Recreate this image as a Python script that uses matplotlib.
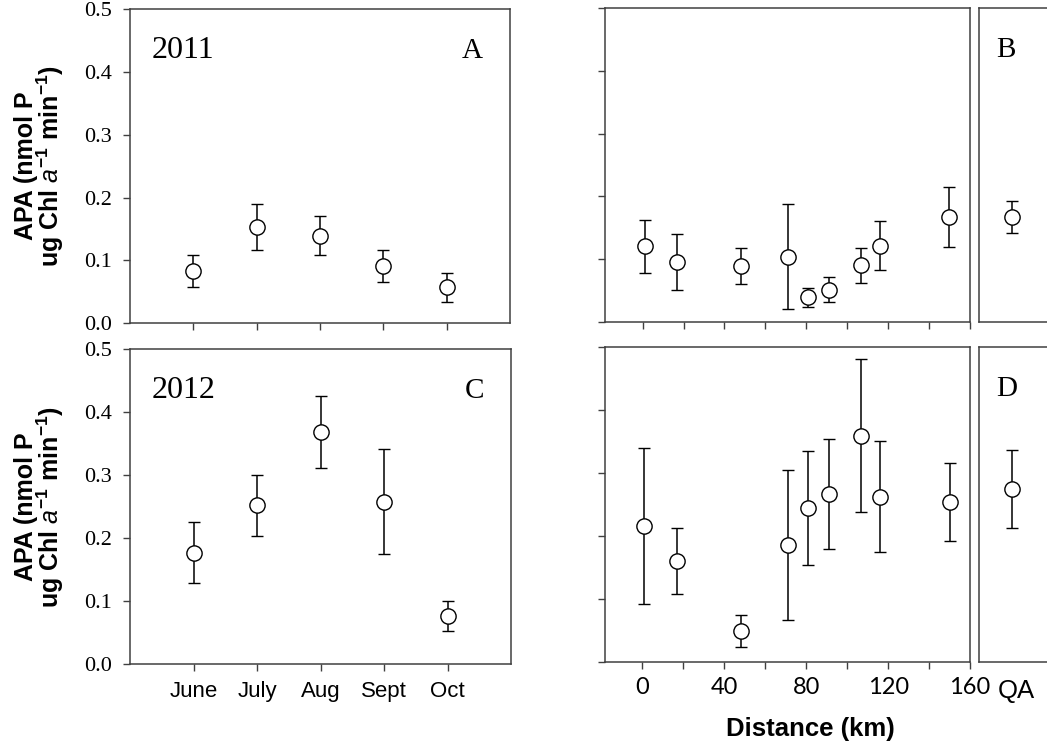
import matplotlib
matplotlib.use("Agg")
import matplotlib.pyplot as plt
from matplotlib.ticker import MultipleLocator, FormatStrFormatter

# ---- data -------------------------------------------------------------
months = ["June", "July", "Aug", "Sept", "Oct"]
apa_2011_month = [0.083, 0.153, 0.139, 0.091, 0.057]
err_2011_month = [0.025, 0.037, 0.031, 0.025, 0.023]
apa_2012_month = [0.177, 0.252, 0.369, 0.258, 0.076]
err_2012_month = [0.049, 0.048, 0.057, 0.084, 0.024]

distance_km = [1, 17, 48, 71, 81, 91, 107, 116, 150]
apa_2011_dist = [0.120, 0.095, 0.089, 0.104, 0.039, 0.051, 0.090, 0.121, 0.167]
err_2011_dist = [0.042, 0.045, 0.029, 0.083, 0.015, 0.020, 0.028, 0.039, 0.048]
apa_2012_dist = [0.215, 0.160, 0.049, 0.185, 0.244, 0.266, 0.359, 0.262, 0.254]
err_2012_dist = [0.124, 0.052, 0.025, 0.119, 0.090, 0.087, 0.122, 0.088, 0.062]

qa_label = "QA"
apa_2011_qa = [0.167]
err_2011_qa = [0.025]
apa_2012_qa = [0.274]
err_2012_qa = [0.062]

dist_ticks = [0, 40, 80, 120, 160]
y_ticks = [0.0, 0.1, 0.2, 0.3, 0.4, 0.5]

# ---- style ------------------------------------------------------------
W, H = 1047, 744
SPINE = "#404040"
SERIF = "Liberation Serif"
SANS = "Liberation Sans"
plt.rcParams["mathtext.fontset"] = "custom"
plt.rcParams["mathtext.rm"] = "Liberation Sans:bold"
plt.rcParams["mathtext.bf"] = "Liberation Sans:bold"
plt.rcParams["mathtext.it"] = "Liberation Sans:italic"

fig = plt.figure(figsize=(W / 100, H / 100), dpi=100)


def box(l, t, r, b):
    """Axes rectangle from pixel edges (top-left origin)."""
    return [l / W, 1 - b / H, (r - l) / W, (b - t) / H]


def style(ax):
    for s in ax.spines.values():
        s.set_color(SPINE)
        s.set_linewidth(1.1)
    ax.tick_params(which="both", direction="out", length=5, width=1.0,
                   color=SPINE, top=False, right=False)
    ax.set_ylim(0, 0.5)
    ax.yaxis.set_major_locator(MultipleLocator(0.1))


def points(ax, x, y, e):
    ax.errorbar(x, y, yerr=e, fmt="o", ms=11, mfc="white", mec="black",
                mew=1.0, ecolor="black", elinewidth=1.1, capsize=4,
                capthick=1.1, zorder=3)


# ---- month panels (A, C) ---------------------------------------------
axA = fig.add_axes(box(130, 9, 510, 323.3))
axC = fig.add_axes(box(130, 349.3, 511, 664))
for ax, y, e, year, tag, show in [
        (axA, apa_2011_month, err_2011_month, "2011", "A", False),
        (axC, apa_2012_month, err_2012_month, "2012", "C", True)]:
    style(ax)
    x = list(range(1, len(months) + 1))
    points(ax, x, y, e)
    ax.set_xlim(0, 6)
    ax.set_xticks(x)
    if show:
        ax.set_xticklabels(months, fontfamily=SANS, fontsize=16)
    else:
        ax.set_xticklabels([])
    ax.tick_params(axis="x", pad=7)
    ax.set_yticks(y_ticks)
    ax.yaxis.set_major_formatter(FormatStrFormatter("%.1f"))
    for lab in ax.get_yticklabels():
        lab.set_fontfamily(SERIF)
        lab.set_fontsize(16)
    ax.tick_params(axis="y", pad=8)
    ax.text(0.058, 0.845, year, transform=ax.transAxes, fontfamily=SERIF,
            fontsize=23, ha="left", va="baseline")
    ax.text(0.929, 0.845, tag, transform=ax.transAxes, fontfamily=SERIF,
            fontsize=21, ha="right", va="baseline")

# ---- distance panels (B, D) ------------------------------------------
axB = fig.add_axes(box(605, 8.3, 969.5, 321.7))
axD = fig.add_axes(box(604.5, 346.7, 970, 661.7))
for ax, y, e, show in [(axB, apa_2011_dist, err_2011_dist, False),
                       (axD, apa_2012_dist, err_2012_dist, True)]:
    style(ax)
    points(ax, distance_km, y, e)
    ax.set_xlim(-18.5, 160)
    ax.set_xticks(dist_ticks)
    ax.xaxis.set_minor_locator(MultipleLocator(20))
    ax.set_yticks(y_ticks)
    ax.set_yticklabels([])
    if show:
        ax.set_xticklabels([str(v) for v in dist_ticks], fontfamily="Lato",
                           fontsize=17)
    else:
        ax.set_xticklabels([])
    ax.tick_params(axis="x", pad=6)

# ---- QA panels --------------------------------------------------------
axBq = fig.add_axes(box(979, 8.3, W, 321.7))
axDq = fig.add_axes(box(979, 346.7, W, 661.7))
for ax, y, e, tag in [(axBq, apa_2011_qa, err_2011_qa, "B"),
                      (axDq, apa_2012_qa, err_2012_qa, "D")]:
    style(ax)
    ax.spines["right"].set_visible(False)
    points(ax, [0], y, e)
    ax.set_xlim(-1, 1.08)
    ax.set_yticks([])
    ax.set_xticks([])
    ax.text(0.25, 0.845, tag, transform=ax.transAxes, fontfamily=SERIF,
            fontsize=21, ha="left", va="baseline")

fig.text(1016 / W, 1 - 698 / H, qa_label, ha="center", va="baseline",
         fontfamily=SANS, fontsize=18.5)

# ---- axis titles ------------------------------------------------------
ylab = ("APA (nmol P\n"
        r"ug Chl $\mathit{a}^{\mathrm{-1}}$ min$^{\mathrm{-1}}$)")
for ax in (axA, axC):
    pos = ax.get_position()
    fig.text(40 / W, pos.y0 + pos.height / 2, ylab, rotation=90,
             ha="center", va="center", multialignment="center",
             fontfamily=SANS, fontweight="bold", fontsize=18,
             linespacing=0.9)

fig.text(810 / W, 1 - 729 / H, "Distance (km)", ha="center", va="center",
         fontfamily=SANS, fontweight="bold", fontsize=18.5)

fig.savefig("out.png", dpi=100, facecolor="white")
